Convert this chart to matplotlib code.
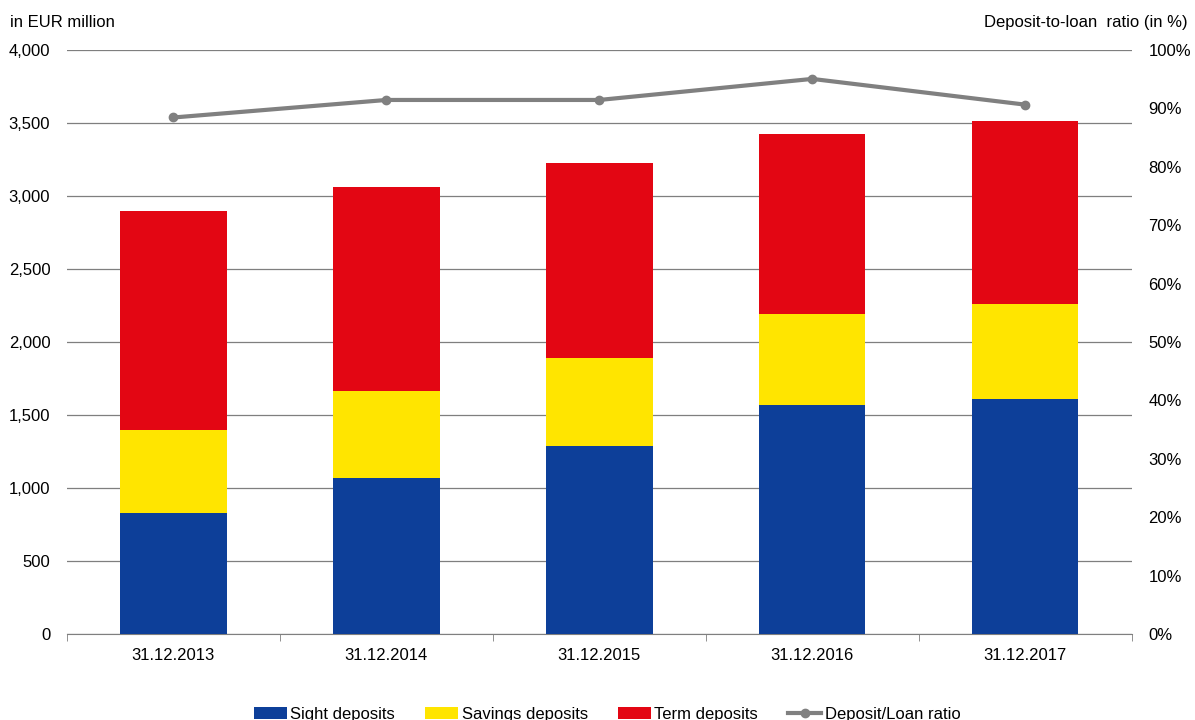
import numpy as np
import matplotlib.pyplot as plt
from matplotlib.ticker import FuncFormatter

plt.rcParams['font.family'] = ['Liberation Sans', 'DejaVu Sans']

# data
dates = ['31.12.2013', '31.12.2014', '31.12.2015', '31.12.2016', '31.12.2017']
sight = [829, 1068, 1288, 1568, 1610]
savings = [568, 596, 602, 624, 650]
term = [1500, 1398, 1336, 1233, 1254]
ratio = [88.4, 91.4, 91.4, 95.0, 90.6]

blue = '#0D3F99'
yellow = '#FFE500'
red = '#E30613'
grey = '#808080'

fig = plt.figure(figsize=(11.95, 7.2), dpi=100)
ax = fig.add_axes([0.056, 0.119, 0.891, 0.812])
ax2 = ax.twinx()

x = np.arange(len(dates))
sight = np.array(sight)
savings = np.array(savings)
term = np.array(term)

ax.bar(x, sight, width=0.5, color=blue, label='Sight deposits', zorder=3)
ax.bar(x, savings, width=0.5, bottom=sight, color=yellow, label='Savings deposits', zorder=3)
ax.bar(x, term, width=0.5, bottom=sight + savings, color=red, label='Term deposits', zorder=3)

ax2.plot(x, ratio, color=grey, lw=3, marker='o', ms=6, label='Deposit/Loan ratio')

ax.set_xlim(-0.5, 4.5)
ax.set_ylim(0, 4000)
ax.set_yticks(range(0, 4001, 500))
ax.yaxis.set_major_formatter(FuncFormatter(lambda v, p: f'{int(v):,}'))
ax.grid(axis='y', color='#7f7f7f', lw=0.9, zorder=0)
ax.set_axisbelow(True)

ax2.set_ylim(0, 100)
ax2.set_yticks(range(0, 101, 10))
ax2.yaxis.set_major_formatter(FuncFormatter(lambda v, p: f'{int(v)}%'))

for a in (ax, ax2):
    for s in ['top', 'left', 'right']:
        a.spines[s].set_visible(False)
    a.tick_params(axis='y', length=0, labelsize=12, pad=12)
ax2.spines['bottom'].set_visible(False)
ax.spines['bottom'].set_color('#7f7f7f')

ax.set_xticks(x)
ax.set_xticklabels(dates, fontsize=12)
ax.set_xticks(np.arange(-0.5, 5, 1), minor=True)
ax.tick_params(axis='x', which='major', length=0, pad=10)
ax.tick_params(axis='x', which='minor', length=5, color='#7f7f7f')

fig.text(0.008, 0.962, 'in EUR million', fontsize=12)
fig.text(0.994, 0.962, 'Deposit-to-loan  ratio (in %)', fontsize=12, ha='right')

h1, l1 = ax.get_legend_handles_labels()
h2, l2 = ax2.get_legend_handles_labels()
fig.legend(h1 + h2, l1 + l2, loc='center', bbox_to_anchor=(0.508, 0.008), ncol=4,
           frameon=False, fontsize=12, handlelength=2.0, handletextpad=0.2,
           columnspacing=1.8)

fig.savefig('out.png', dpi=100)
